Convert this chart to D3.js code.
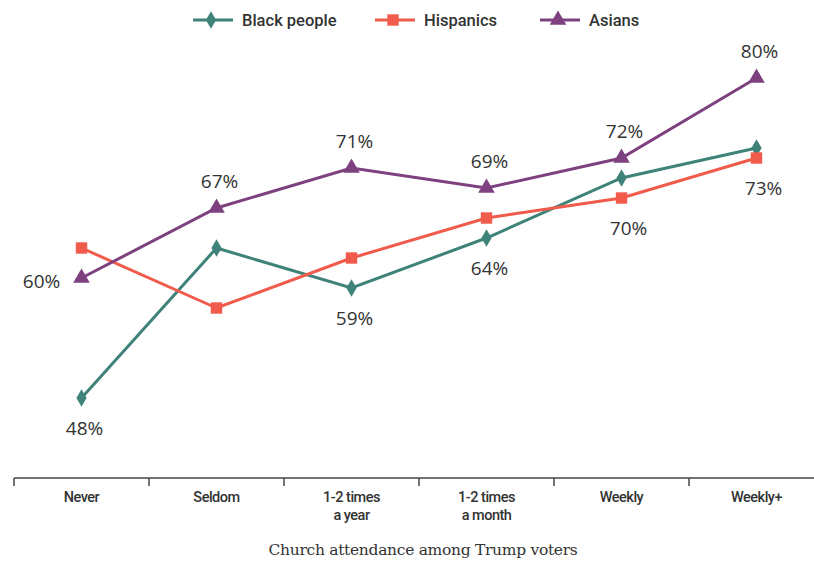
<!DOCTYPE html>
<html>
<head>
<meta charset="utf-8">
<script src="https://cdn.jsdelivr.net/npm/d3@7"></script>
<style>
  body { margin: 0; background: #fff; }
  svg { display: block; }
</style>
</head>
<body>
<svg id="chart"></svg>
<script>
const categories = ['Never', 'Seldom', '1-2 times|a year', '1-2 times|a month', 'Weekly', 'Weekly+'];
const seriesNames = ['Black people', 'Hispanics', 'Asians'];
const blackValues = [48, 63, 59, 64, 70, 73];
const hispanicValues = [63, 57, 62, 66, 68, 72];
const asianValues = [60, 67, 71, 69, 72, 80];
// which points carry a label: [series index, category index, text]
const labels = [
  [2, 0, '60%'], [2, 1, '67%'], [2, 2, '71%'], [2, 3, '69%'], [2, 4, '72%'], [2, 5, '80%'],
  [0, 0, '48%'], [0, 2, '59%'], [0, 3, '64%'],
  [1, 4, '70%'], [1, 5, '73%']
];
const axisTitle = 'Church attendance among Trump voters';

const w = 814;
const h = 561;
const colors = ['#3e8279', '#f05b4b', '#7e4180'];
const symbols = [d3.symbolDiamond, d3.symbolSquare, d3.symbolTriangle];
const symbolSizes = [90, 130, 120];
const allValues = [blackValues, hispanicValues, asianValues];

const svg = d3.select('#chart')
  .attr('width', w)
  .attr('height', h);

const x = d3.scaleBand()
  .domain(categories)
  .range([14, 824]);

const y = d3.scaleLinear()
  .domain([40, 85])
  .range([478, 28]);

// x axis: ticks at band edges, labels centered in bands
const axisY = y(40);
svg.append('line')
  .attr('x1', 14).attr('x2', w)
  .attr('y1', axisY).attr('y2', axisY)
  .attr('stroke', '#444').attr('stroke-width', 1.5);

svg.selectAll('.tick')
  .data(categories)
  .enter()
  .append('line')
  .attr('class', 'tick')
  .attr('x1', d => x(d)).attr('x2', d => x(d))
  .attr('y1', axisY).attr('y2', axisY + 8)
  .attr('stroke', '#444').attr('stroke-width', 1.5);

const tickText = svg.selectAll('.tick-label')
  .data(categories)
  .enter()
  .append('text')
  .attr('class', 'tick-label')
  .attr('x', d => x(d) + x.bandwidth() / 2)
  .attr('y', axisY + 24)
  .attr('text-anchor', 'middle')
  .style('font-family', 'Roboto, sans-serif')
  .style('font-weight', 500)
  .style('font-size', '14.5px')
  .style('letter-spacing', '-0.5px')
  .style('fill', '#333');

tickText.each(function (d) {
  const parts = d.split('|');
  d3.select(this).selectAll('tspan')
    .data(parts)
    .enter()
    .append('tspan')
    .attr('x', x(d) + x.bandwidth() / 2)
    .attr('dy', (p, i) => i === 0 ? 0 : 18)
    .text(p => p);
});

svg.append('text')
  .attr('x', 423)
  .attr('y', 555)
  .attr('text-anchor', 'middle')
  .style('font-family', '"DejaVu Serif", serif')
  .style('font-size', '15.5px')
  .style('letter-spacing', '-0.3px')
  .style('fill', '#333')
  .text(axisTitle);

const line = d3.line()
  .x((d, i) => x(categories[i]) + x.bandwidth() / 2)
  .y(d => y(d));

// draw series
allValues.forEach((vals, s) => {
  svg.append('path')
    .datum(vals)
    .attr('fill', 'none')
    .attr('stroke', colors[s])
    .attr('stroke-width', 3)
    .attr('d', line);

  svg.selectAll('.pt' + s)
    .data(vals)
    .enter()
    .append('path')
    .attr('class', 'pt' + s)
    .attr('transform', (d, i) => `translate(${x(categories[i]) + x.bandwidth() / 2}, ${y(d)})`)
    .attr('d', d3.symbol().type(symbols[s]).size(symbolSizes[s]))
    .attr('fill', colors[s]);
});

// data labels
svg.selectAll('.val')
  .data(labels)
  .enter()
  .append('text')
  .attr('class', 'val')
  .attr('x', d => {
    const cx = x(categories[d[1]]) + x.bandwidth() / 2;
    if (d[0] === 2 && d[1] === 0) return cx - 40;
    if (d[0] === 1) return cx + 7;
    return cx + 3;
  })
  .attr('y', d => {
    const cy = y(allValues[d[0]][d[1]]);
    if (d[0] === 2 && d[1] === 0) return cy + 10;
    if (d[0] === 2) return cy - 20;
    return cy + 37;
  })
  .attr('text-anchor', 'middle')
  .style('font-family', '"Open Sans", sans-serif')
  .style('font-size', '19px')
  .style('fill', '#333')
  .text(d => d[2]);

// legend
const legendX = [193, 375, 540];
const legend = svg.selectAll('.legend')
  .data(seriesNames)
  .enter()
  .append('g')
  .attr('class', 'legend')
  .attr('transform', (d, i) => `translate(${legendX[i]}, 20)`);

legend.append('line')
  .attr('x1', 0).attr('x2', 40)
  .attr('stroke', (d, i) => colors[i])
  .attr('stroke-width', 3);

legend.append('path')
  .attr('transform', 'translate(18, 0)')
  .attr('d', (d, i) => d3.symbol().type(symbols[i]).size(symbolSizes[i])())
  .attr('fill', (d, i) => colors[i]);

legend.append('text')
  .attr('x', 49)
  .attr('y', 6)
  .style('font-family', 'Roboto, sans-serif')
  .style('font-weight', 500)
  .style('font-size', '16.5px')
  .style('fill', '#333')
  .text(d => d);
</script>
</body>
</html>
